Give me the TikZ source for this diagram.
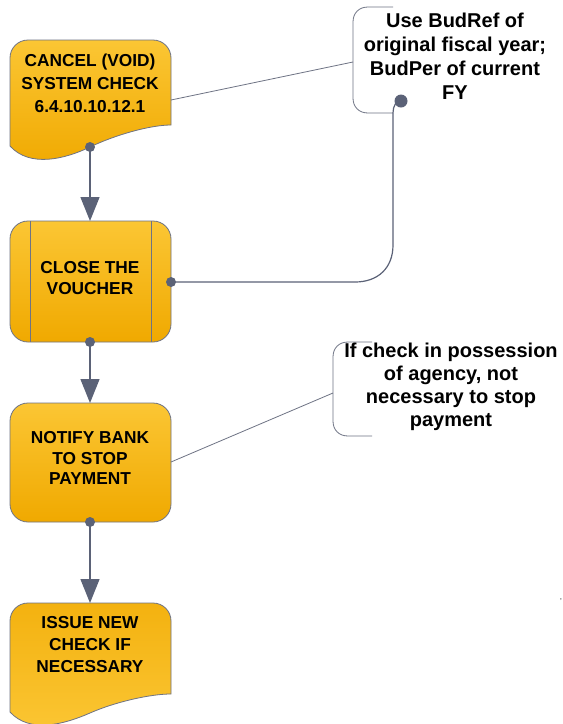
\documentclass[tikz,border=0pt]{standalone}
\usepackage{fontspec}
\setmainfont{Liberation Sans}
\usetikzlibrary{arrows.meta}
\definecolor{edgegray}{HTML}{6E7384}
\definecolor{conncol}{HTML}{5B6277}
\definecolor{ytop}{HTML}{FBC634}
\definecolor{ybot}{HTML}{F0A900}
\tikzset{
  boxshape/.style={draw=edgegray, line width=0.8pt, top color=ytop, bottom color=ybot},
  boxshaperev/.style={draw=edgegray, line width=0.8pt, top color=ybot!70!ytop, bottom color=ytop},
  boxtext/.style={font=\bfseries\fontsize{17.3}{23}\selectfont, align=center, text=black, inner sep=0pt},
  notetext/.style={font=\bfseries\fontsize{20}{24}\selectfont, align=center, text=black, inner sep=0pt},
  connline/.style={draw=conncol, line width=1.4pt},
  flowarrow/.style={connline, -{Triangle[width=19pt,length=24pt]}},
  thinline/.style={draw=edgegray, line width=0.8pt},
  dotmark/.style={circle, fill=conncol, inner sep=0pt, minimum size=10pt},
}
\begin{document}
\begin{tikzpicture}[x=1pt,y=-1pt]
\useasboundingbox[fill=white] (0,0) rectangle (563,724);

% ---- Box 1 (document shape)
\path[boxshape] (10,146) -- (10,58) .. controls (10,48) and (18,40) .. (28,40)
  -- (153,40) .. controls (163,40) and (171,48) .. (171,58) -- (171,125)
  .. controls (150,125) and (115,135) .. (90,147)
  .. controls (65,159) and (30,168) .. (10,146) -- cycle;
\node[boxtext] (b1) at (90,83) {CANCEL (VOID)\\SYSTEM CHECK\\6.4.10.10.12.1};

% ---- Box 2 (predefined process)
\node[boxshape, rounded corners=18pt, minimum width=161pt, minimum height=121pt, inner sep=0pt] (b2) at (90.5,281.5) {};
\draw[thinline] (30,221) -- (30,342);
\draw[thinline] (151,221) -- (151,342);
\node[boxtext, font=\bfseries\fontsize{17.3}{21}\selectfont] (b2t) at (90,278) {CLOSE THE\\VOUCHER};

% ---- Box 3
\node[boxshape, rounded corners=18pt, minimum width=161pt, minimum height=119pt, inner sep=0pt] (b3) at (90.5,462.5) {};
\node[boxtext, font=\bfseries\fontsize{17.3}{20.5}\selectfont] (b3t) at (90,458) {NOTIFY BANK\\TO STOP\\PAYMENT};

% ---- Box 4 (document shape)
\path[boxshaperev] (10,712) -- (10,621) .. controls (10,611) and (18,603) .. (28,603)
  -- (153,603) .. controls (163,603) and (171,611) .. (171,621) -- (171,694)
  .. controls (150,694) and (115,702) .. (90,713)
  .. controls (65,724) and (30,734) .. (10,712) -- cycle;
\node[boxtext, font=\bfseries\fontsize{17.3}{22}\selectfont] (b4) at (90,645) {ISSUE NEW\\CHECK IF\\NECESSARY};

% ---- Callout brackets
\draw[thinline] (393,7) -- (368,7) .. controls (359,7) and (353,13) .. (353,22)
  -- (353,98) .. controls (353,107) and (359,113) .. (368,113) -- (393,113);
\node[notetext] (n1) at (455,56) {Use BudRef of\\original fiscal year;\\BudPer of current\\FY};

\draw[thinline] (372,342) -- (348,342) .. controls (339,342) and (333,348) .. (333,357)
  -- (333,421) .. controls (333,430) and (339,436) .. (348,436) -- (372,436);
\node[notetext, font=\bfseries\fontsize{20}{23}\selectfont] (n2) at (451,387) {If check in possession\\of agency, not\\necessary to stop\\payment};

% ---- connection points
\coordinate (d1) at (90,147);
\coordinate (d2b) at (90,342);
\coordinate (d2r) at (171,282);
\coordinate (d3b) at (90,522);
\coordinate (dn1) at (401,101);
\coordinate (b1r) at (171,100);
\coordinate (c1l) at (353,62);
\coordinate (b3r) at (171,462);
\coordinate (c2l) at (333,393);
\coordinate (b2top) at (90,221);
\coordinate (b3top) at (90,403);
\coordinate (b4top) at (90,603);

% ---- connectors
\draw[thinline] (b1r) -- (c1l);
\draw[thinline] (b3r) -- (c2l);
\draw[flowarrow] (d1) -- (b2top);
\draw[flowarrow] (d2b) -- (b3top);
\draw[flowarrow] (d3b) -- (b4top);
\draw[connline, line width=1.2pt] (d2r) -- (355,282) .. controls (378,282) and (393,268) .. (393,245)
  -- (393,113) .. controls (393,106) and (396,101) .. (dn1);

% ---- dots
\foreach \p in {d1,d2b,d2r,d3b} \node[dotmark] at (\p) {};
\node[dotmark, minimum size=13pt] at (dn1) {};

% ---- stray mark
\node[font=\fontsize{8}{8}\selectfont, text=black!80, inner sep=0pt] (mk) at (561,600) {,};
\end{tikzpicture}
\end{document}
